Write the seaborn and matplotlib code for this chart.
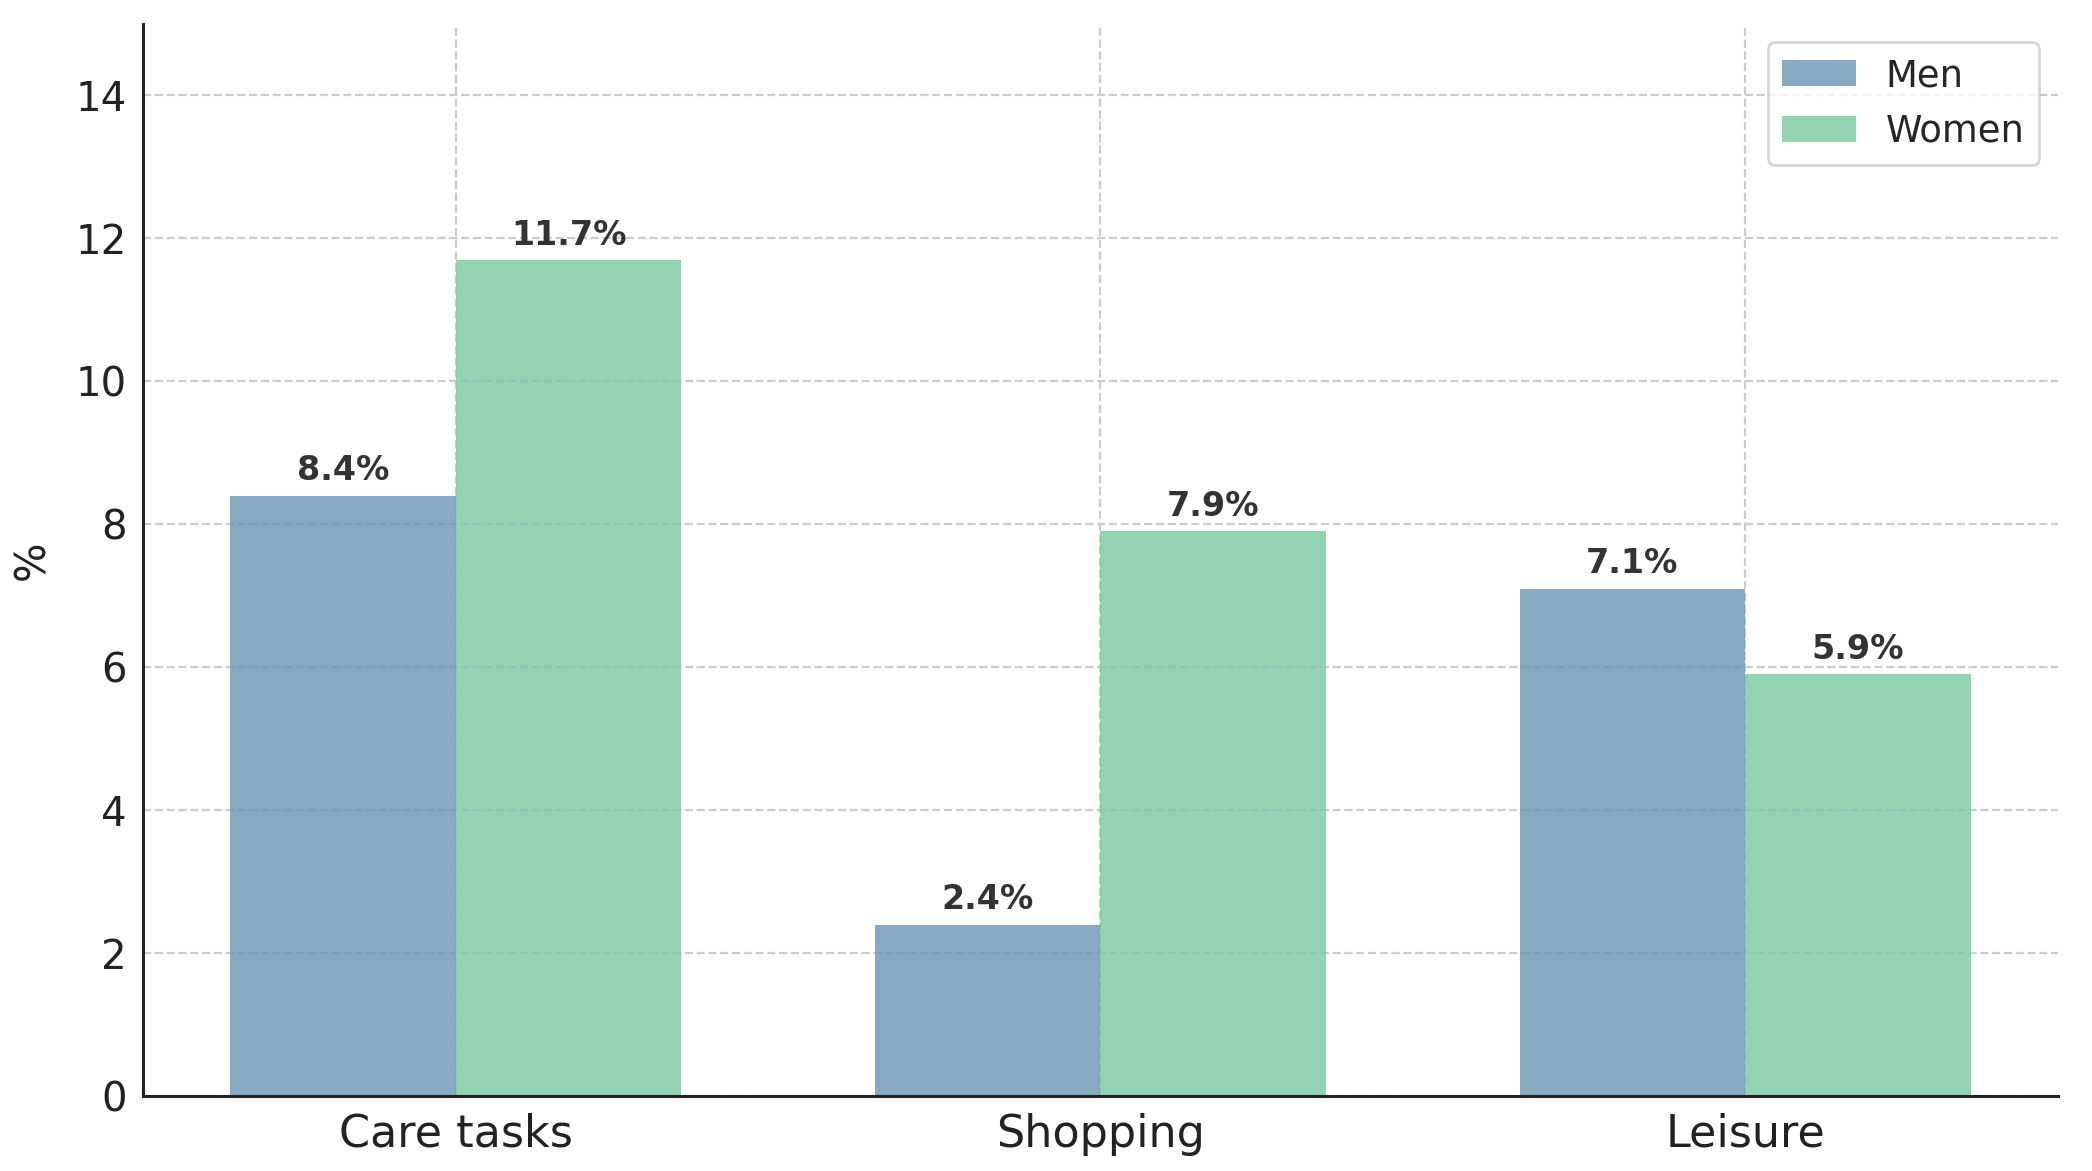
import pandas as pd
import matplotlib
matplotlib.use("Agg")
import matplotlib.pyplot as plt
import seaborn as sns

# Data
categories = ["Care tasks", "Shopping", "Leisure"]
men = [8.4, 2.4, 7.1]
women = [11.7, 7.9, 5.9]
groups = ["Men", "Women"]
palette = {"Men": "#6995b3", "Women": "#79c89f"}

df = pd.DataFrame({
    "category": categories * 2,
    "group": ["Men"] * len(categories) + ["Women"] * len(categories),
    "value": men + women,
})

sns.set_style("white")
plt.rcParams["font.family"] = ["DejaVu Sans"]

fig = plt.figure(figsize=(10.46, 5.855), dpi=200)
ax = fig.add_axes([0.0684, 0.064, 0.9153, 0.9155])

sns.barplot(data=df, x="category", y="value", hue="group", hue_order=groups,
            order=categories, palette=palette, width=0.7, gap=0, alpha=0.8,
            saturation=1, errorbar=None, linewidth=0, ax=ax, zorder=2)

# Value labels above the bars
for container in ax.containers:
    ax.bar_label(container, fmt="%.1f%%", padding=3, fontsize=12,
                 fontweight="bold", color="#333333")

ax.set_xlim(-0.485, 2.485)
ax.set_ylim(0, 15)
ax.set_yticks([0, 2, 4, 6, 8, 10, 12, 14])
ax.set_xlabel("")
ax.set_ylabel("%", fontsize=15, color="#222222", labelpad=8)
ax.tick_params(axis="y", direction="in", length=4.5, width=1.1,
               labelsize=14.5, labelcolor="#222222", pad=6)
ax.tick_params(axis="x", direction="in", length=4.5, width=1.1,
               labelsize=16, labelcolor="#222222", pad=6)

ax.grid(True, linestyle="--", color="#cccccc", linewidth=0.8)
ax.set_axisbelow(True)
sns.despine(ax=ax)
for side in ["left", "bottom"]:
    ax.spines[side].set_linewidth(1.1)
    ax.spines[side].set_color("#222222")

ax.legend(loc="upper right", fontsize=13.3, frameon=True, fancybox=True,
          edgecolor="#cccccc", title=None)

fig.savefig("out.png", dpi=200)
